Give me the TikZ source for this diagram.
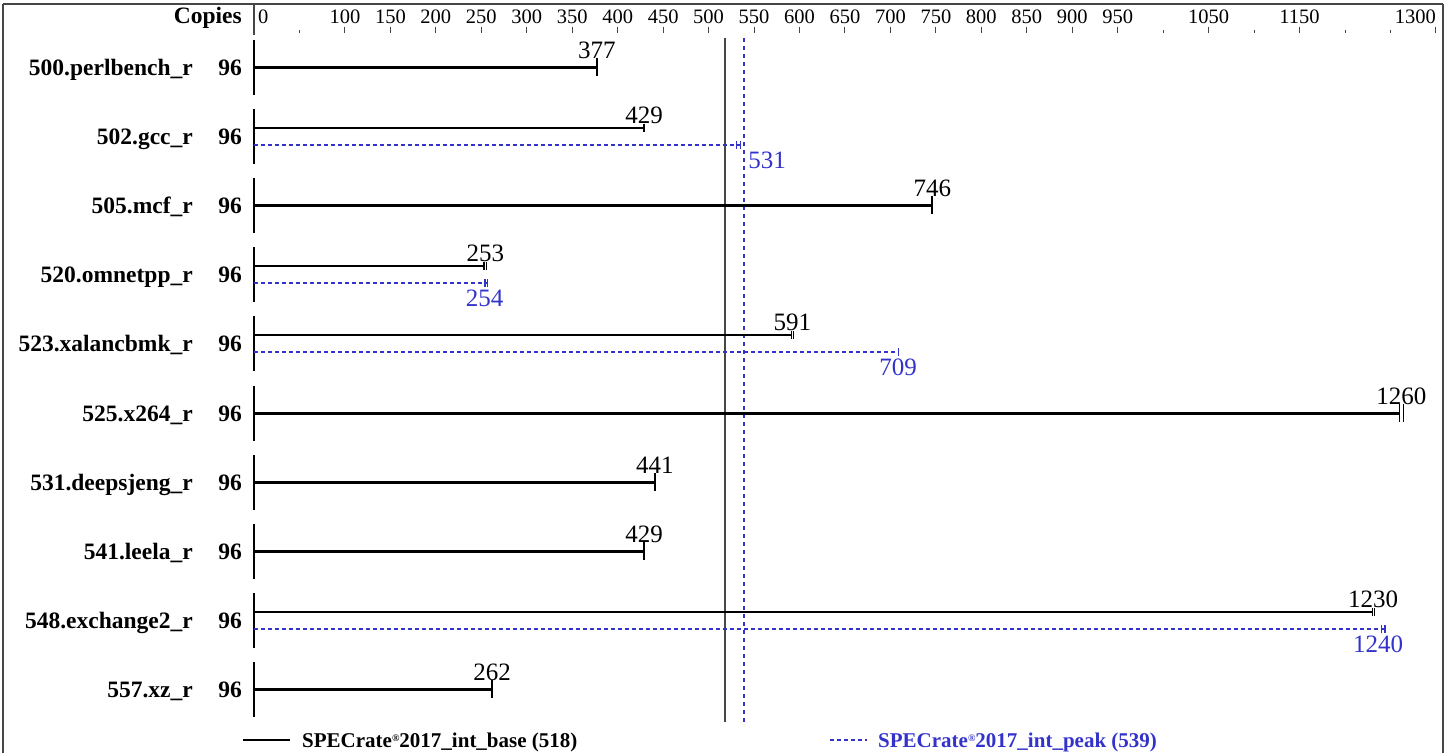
\documentclass[tikz,border=0pt]{standalone}
\usepackage{fontspec}
\setmainfont{Liberation Serif}
\definecolor{peakblue}{RGB}{51,51,204}
\definecolor{framegray}{RGB}{70,70,70}
\tikzset{
  rowlabel/.style={font=\fontsize{23.5}{24}\selectfont\bfseries, anchor=base east, inner sep=0pt},
  axlabel/.style={font=\fontsize{20.5}{21}\selectfont, anchor=base, inner sep=0pt},
  vallabel/.style={font=\fontsize{25}{26}\selectfont, anchor=base, inner sep=0pt},
  peaklabel/.style={font=\fontsize{25}{26}\selectfont, text=peakblue, anchor=north, inner sep=0pt},
  legendtext/.style={font=\fontsize{21}{22}\selectfont\bfseries, anchor=base west, inner sep=0pt},
  thickbar/.style={line width=3pt},
  basebar/.style={line width=2pt},
  peakbar/.style={peakblue, line width=2pt, dash pattern=on 4pt off 3pt},
  endtick/.style={line width=1.6pt},
  peaktick/.style={peakblue, line width=1.4pt},
  rowaxis/.style={line width=2.5pt},
  majortick/.style={framegray, line width=1pt},
  frameline/.style={framegray, line width=2pt},
  baseref/.style={framegray, line width=1.5pt},
  peakref/.style={peakblue, line width=1.5pt, dash pattern=on 4pt off 4pt},
}
\newcommand\regmark{\raisebox{0.55ex}{\fontsize{10}{10}\selectfont\textregistered}}
\begin{document}
\begin{tikzpicture}[x=1pt,y=-1pt]
\useasboundingbox (0,0) rectangle (1451,753);
% frame
\coordinate (fbl) at (2.5,753);
\coordinate (ftl) at (2.5,4);
\coordinate (ftr) at (1443,4);
\coordinate (fbr) at (1443,753);
\draw[frameline] (fbl) -- (ftl);
\draw[framegray, line width=1.5pt] (ftl) -- (ftr);
\draw[frameline] (ftr) -- (fbr);
% axis header
\coordinate (axtop) at (254,4);
\coordinate (axbot) at (254,35);
\draw[framegray, line width=1.5pt] (axtop) -- (axbot);
\node[font=\fontsize{23.5}{24}\selectfont\bfseries, anchor=base east, inner sep=0pt] (copies) at (242,23) {Copies};
\node[axlabel, anchor=base west] (t0) at (258,23) {0};
\foreach \t in {100,150,200,250,300,350,400,450,500,550,600,650,700,750,800,850,900,950,1050,1150}{
  \pgfmathsetmacro\xt{254+0.9092*\t}
  \node[axlabel] (t\t) at (\xt,23) {\t};
  \draw[majortick] (\xt,27) -- (\xt,33);
}
\pgfmathsetmacro\xlast{254+0.9092*1300}
\node[axlabel, anchor=base east] (t1300) at (\xlast,23) {1300};
\draw[majortick] (\xlast,27) -- (\xlast,33);
\foreach \t in {50,1000,1100,1200,1250}{
  \pgfmathsetmacro\xt{254+0.9092*\t}
  \draw[majortick] (\xt,30) -- (\xt,33);
}
% reference lines
\coordinate (brt) at ({254+0.9092*518},38);
\coordinate (brb) at ({254+0.9092*518},722);
\coordinate (prt) at ({254+0.9092*539},38);
\coordinate (prb) at ({254+0.9092*539},722);
\draw[baseref] (brt) -- (brb);
\draw[peakref] (prt) -- (prb);
% row labels and row axes
\foreach \r/\nm in {0/500.perlbench\_r,1/502.gcc\_r,2/505.mcf\_r,3/520.omnetpp\_r,4/523.xalancbmk\_r,5/525.x264\_r,6/531.deepsjeng\_r,7/541.leela\_r,8/548.exchange2\_r,9/557.xz\_r}{
  \pgfmathsetmacro\c{round(67+69.1*\r)}
  \node[rowlabel] (name\r) at (193,\c+8) {\nm};
  \node[rowlabel] (cp\r) at (242,\c+8) {96};
  \coordinate (top\r) at (254,\c-27);
  \coordinate (bot\r) at (254,\c+28);
  \draw[rowaxis] (top\r) -- (bot\r);
}
% single (base only) rows
\foreach \r/\v/\w in {0/377/377,2/746/746,5/1260/1264,6/441/441,7/429/429,9/262/262}{
  \pgfmathsetmacro\c{round(67+69.1*\r)}
  \pgfmathsetmacro\xe{254+0.9092*\v}
  \pgfmathsetmacro\xw{254+0.9092*\w}
  \coordinate (s\r) at (254,\c);
  \coordinate (e\r) at (\xe,\c);
  \draw[thickbar] (s\r) -- (e\r);
  \draw[endtick] (\xe,\c-9) -- (\xe,\c+9);
  \draw[line width=1pt] (\xw,\c-9) -- (\xw,\c+9);
  \node[vallabel] (v\r) at ({(\xe+\xw)/2},\c-9) {\v};
}
% rows with base and peak
\foreach \r/\b/\bb/\p/\pp/\px in {1/429/429/531/535/767,3/253/256/254/257/484.5,4/591/593/709/709/898,8/1230/1232/1240/1244/1378}{
  \pgfmathsetmacro\c{round(67+69.1*\r)}
  \pgfmathsetmacro\xb{254+0.9092*\b}
  \pgfmathsetmacro\xbb{254+0.9092*\bb}
  \pgfmathsetmacro\xp{254+0.9092*\p}
  \pgfmathsetmacro\xpp{254+0.9092*\pp}
  \coordinate (bs\r) at (254,\c-8);
  \coordinate (be\r) at (\xb,\c-8);
  \draw[basebar] (bs\r) -- (be\r);
  \draw[line width=1.2pt] (\xb,\c-12) -- (\xb,\c-4);
  \draw[line width=1.2pt] (\xbb,\c-12) -- (\xbb,\c-4);
  \node[vallabel] (bv\r) at ({(\xb+\xbb)/2},\c-13) {\b};
  \coordinate (ps\r) at (254,\c+9);
  \coordinate (pe\r) at (\xp,\c+9);
  \draw[peakbar] (ps\r) -- (pe\r);
  \draw[peaktick] (\xp,\c+5) -- (\xp,\c+13);
  \draw[peaktick] (\xpp,\c+5) -- (\xpp,\c+13);
  \draw[peaktick] (\xp,\c+9) -- (\xpp,\c+9);
  \node[peaklabel] (pv\r) at (\px,\c+16) {\p};
}
% legend
\coordinate (lb1) at (243,740);
\coordinate (lb2) at (290,740);
\draw[line width=1.2pt] (lb1) -- (lb2);
\node[legendtext] (lbt) at (302,747) {SPECrate\regmark2017\_int\_base (518)};
\coordinate (lp1) at (830,740);
\coordinate (lp2) at (867,740);
\draw[peakblue, line width=1.2pt, dash pattern=on 4pt off 3pt] (lp1) -- (lp2);
\node[legendtext, text=peakblue] (lpt) at (878,747) {SPECrate\regmark2017\_int\_peak (539)};
\end{tikzpicture}
\end{document}
